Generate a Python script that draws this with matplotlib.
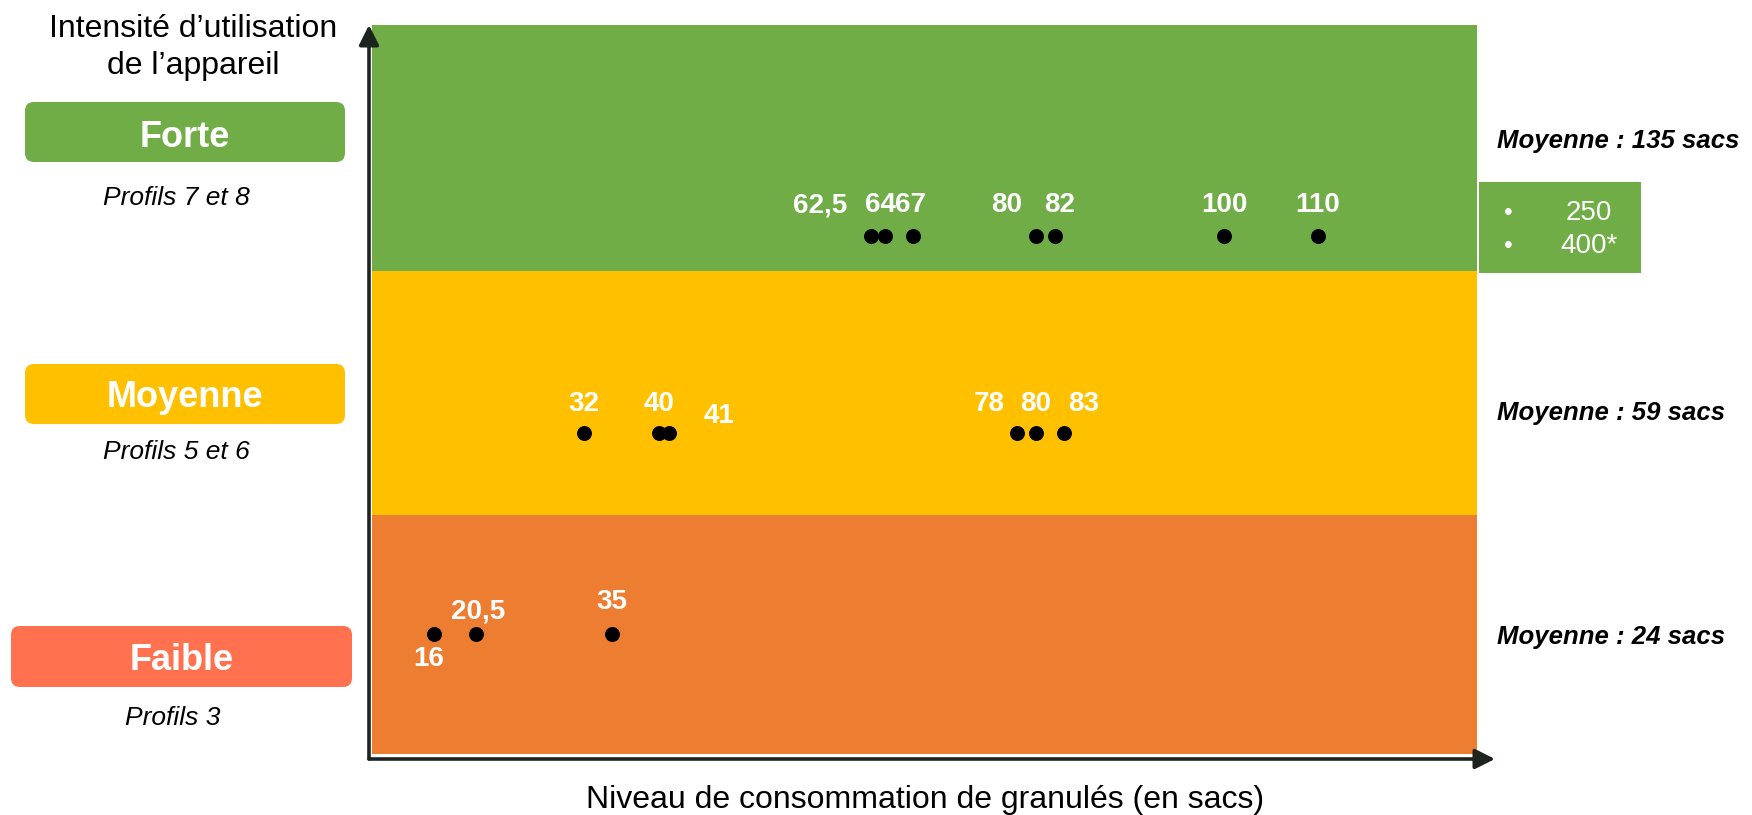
import matplotlib.pyplot as plt
from matplotlib.patches import FancyBboxPatch

plt.rcParams['font.family'] = ['Liberation Sans', 'DejaVu Sans']

# data
levels = ["Faible", "Moyenne", "Forte"]
profiles = ["Profils 3", "Profils 5 et 6", "Profils 7 et 8"]
means = [24, 59, 135]
faible_vals = [16, 20.5, 35]
moyenne_vals = [32, 40, 41, 78, 80, 83]
forte_vals = [62.5, 64, 67, 80, 82, 100, 110]
outliers = ["250", "400*"]

band_colors = ["#ED7D31", "#FFC000", "#70AD47"]
box_colors = ["#FF714F", "#FFC000", "#70AD47"]

# label nudges (data units) so the numbers don't overlap
faible_dx = [-0.5, 0.2, 0.0]
faible_dy = [-0.105, 0.092, 0.13]
moyenne_dx = [0.0, 0.0, 5.3, -2.9, 0.0, 2.1]
moyenne_dy = [0.121, 0.121, 0.07, 0.121, 0.121, 0.121]
forte_dx = [-5.4, -0.5, -0.3, -3.1, 0.5, 0.0, 0.0]
forte_dy = [0.127] * 7


def fmt(v):
    return f"{v:g}".replace(".", ",")


W, H = 1752, 815
fig = plt.figure(figsize=(W / 100, H / 100), dpi=100)

# overlay in pixel coordinates for the side decorations
ov = fig.add_axes([0, 0, 1, 1])
ov.set_xlim(0, W)
ov.set_ylim(H, 0)
ov.axis("off")

# main plot area: x in sacs, y in band units
x0_px, x1_px, ytop_px, ybot_px = 369, 1495, 25, 759
ax = fig.add_axes([x0_px / W, (H - ybot_px) / H, (x1_px - x0_px) / W, (ybot_px - ytop_px) / H])
ax.set_xlim(9.14, 128.8)
ax.set_ylim(0, 3.008)
ax.axis("off")

band_left, band_right = 9.46, 126.9
bottoms = [0.02, 1.0, 2.0]
tops = [1.0, 2.0, 3.008]
for b, t, c in zip(bottoms, tops, band_colors):
    ax.barh((b + t) / 2, band_right - band_left, left=band_left, height=t - b,
            color=c, edgecolor="none", zorder=1)

rows = [(faible_vals, faible_dx, faible_dy, 0.514),
        (moyenne_vals, moyenne_dx, moyenne_dy, 1.334),
        (forte_vals, forte_dx, forte_dy, 2.143)]
for vals, dxs, dys, yrow in rows:
    ax.scatter(vals, [yrow] * len(vals), s=95, color="black", zorder=3)
    for v, dx, dy in zip(vals, dxs, dys):
        ax.text(v + dx, yrow + dy, fmt(v), color="white", fontsize=20,
                fontweight="bold", ha="center", va="center", zorder=4)

# axes arrows
arrow = dict(arrowstyle="-|>", lw=2.6, color="#1d2420", mutation_scale=30,
             shrinkA=0, shrinkB=0)
ax.annotate("", xy=(9.14, 3.008), xytext=(9.14, 0), arrowprops=arrow,
            annotation_clip=False, zorder=5)
ax.annotate("", xy=(128.8, 0), xytext=(9.14, 0), arrowprops=arrow,
            annotation_clip=False, zorder=5)

# left side: title, level boxes, profile notes
ov.text(193, 37, "Intensité d\u2019utilisation", fontsize=23, ha="center", va="baseline")
ov.text(193, 74, "de l\u2019appareil", fontsize=23, ha="center", va="baseline")

# x, y, w, h, label baseline, profile baseline
box_geom = [(11, 626, 341, 61, 670, 725), (25, 364, 320, 60, 407, 459), (25, 102, 320, 60, 147, 205)]
for (bx, by, bw, bh, ty, py), lab, prof, c in zip(box_geom, levels, profiles, box_colors):
    ov.add_patch(FancyBboxPatch((bx, by), bw, bh, boxstyle="round,pad=0,rounding_size=9",
                                facecolor=c, edgecolor="none"))
    ov.text(bx + bw / 2, ty, lab, color="white", fontsize=26, fontweight="bold",
            ha="center", va="baseline")
    ov.text(bx + bw / 2 - 9, py, prof, fontsize=19, style="italic", ha="center", va="baseline")

# right side: averages
for m, y in zip(means, [637, 413, 141]):
    ov.text(1497, y, f"Moyenne : {m} sacs", fontsize=18.5, fontweight="bold",
            style="italic", ha="left", va="center")

# outlier box
ov.add_patch(plt.Rectangle((1479, 182), 162, 91, facecolor="#70AD47", edgecolor="none"))
for i, o in enumerate(outliers):
    y = 213 + i * 33
    ov.text(1508, y, "\u2022", color="white", fontsize=18, ha="center", va="center")
    ov.text(1589, y, o, color="white", fontsize=20, ha="center", va="center")

# x axis label
ov.text(925, 800, "Niveau de consommation de granulés (en sacs)", fontsize=23,
        ha="center", va="center")

fig.savefig("out.png", dpi=100)
